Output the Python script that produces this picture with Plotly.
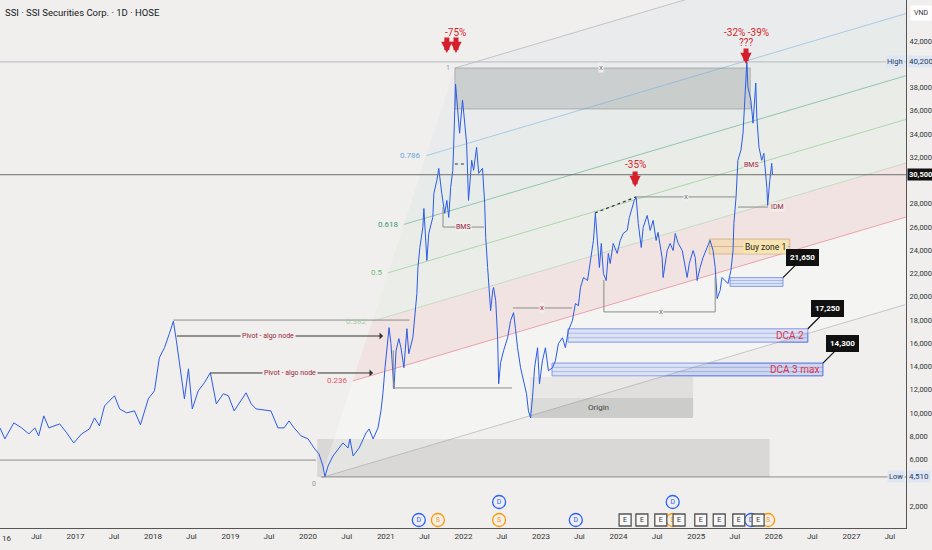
import pandas as pd
import plotly.graph_objects as go

# ---- price series (VND) ----
PRICE_DATES = [
    "2016-01-12", "2016-02-04", "2016-03-17", "2016-04-23", "2016-05-27", "2016-06-24", "2016-07-12",
    "2016-08-05", "2016-08-29", "2016-10-19", "2016-11-21", "2016-12-24", "2017-01-30", "2017-03-08",
    "2017-04-01", "2017-04-24", "2017-05-18", "2017-07-04", "2017-07-28", "2017-08-30", "2017-10-06",
    "2017-11-03", "2017-12-10", "2018-01-08", "2018-01-31", "2018-02-24", "2018-03-19", "2018-04-07",
    "2018-04-21", "2018-05-05", "2018-05-29", "2018-06-17", "2018-07-05", "2018-08-02", "2018-08-31",
    "2018-09-28", "2018-10-26", "2018-11-28", "2018-12-22", "2019-01-18", "2019-03-15", "2019-04-08",
    "2019-05-01", "2019-07-10", "2019-08-12", "2019-09-10", "2019-10-03", "2019-10-27", "2019-11-29",
    "2020-01-01", "2020-01-29", "2020-02-21", "2020-03-11", "2020-03-20", "2020-04-04", "2020-04-27",
    "2020-05-21", "2020-06-13", "2020-07-07", "2020-07-16", "2020-07-31", "2020-08-28", "2020-09-30",
    "2020-10-14", "2020-11-02", "2020-11-25", "2020-12-09", "2020-12-18", "2020-12-28", "2021-01-06",
    "2021-01-16", "2021-01-25", "2021-02-08", "2021-02-18", "2021-03-03", "2021-03-13", "2021-03-27",
    "2021-04-10", "2021-04-19", "2021-05-08", "2021-05-18", "2021-05-27", "2021-06-01", "2021-06-10",
    "2021-06-24", "2021-06-29", "2021-07-13", "2021-07-22", "2021-08-10", "2021-08-15", "2021-08-29",
    "2021-09-07", "2021-09-21", "2021-10-05", "2021-10-15", "2021-10-24", "2021-11-02", "2021-11-12",
    "2021-11-16", "2021-11-25", "2021-12-04", "2021-12-14", "2021-12-28", "2022-01-07", "2022-01-16",
    "2022-01-25", "2022-02-09", "2022-02-18", "2022-03-04", "2022-03-14", "2022-04-01", "2022-04-11",
    "2022-04-16", "2022-04-25", "2022-05-09", "2022-05-19", "2022-05-23", "2022-06-02", "2022-06-11",
    "2022-06-16", "2022-06-25", "2022-07-09", "2022-07-28", "2022-08-11", "2022-08-25", "2022-09-03",
    "2022-09-13", "2022-09-27", "2022-10-11", "2022-10-25", "2022-11-03", "2022-11-13", "2022-11-22",
    "2022-12-02", "2022-12-16", "2022-12-25", "2023-01-08", "2023-01-22", "2023-02-05", "2023-02-24",
    "2023-03-10", "2023-03-24", "2023-04-12", "2023-04-26", "2023-05-10", "2023-05-29", "2023-06-12",
    "2023-06-26", "2023-07-06", "2023-07-20", "2023-08-08", "2023-08-22", "2023-09-05", "2023-09-14",
    "2023-09-24", "2023-10-03", "2023-10-12", "2023-10-22", "2023-11-04", "2023-11-14", "2023-11-23",
    "2023-12-07", "2023-12-26", "2024-01-09", "2024-01-23", "2024-02-11", "2024-02-21", "2024-03-05",
    "2024-03-15", "2024-03-24", "2024-04-03", "2024-04-17", "2024-04-26", "2024-05-15", "2024-05-29",
    "2024-06-12", "2024-06-26", "2024-07-05", "2024-07-24", "2024-07-29", "2024-08-17", "2024-08-31",
    "2024-09-14", "2024-09-24", "2024-10-08", "2024-10-27", "2024-11-05", "2024-11-19", "2024-11-29",
    "2024-12-17", "2024-12-27", "2025-01-05", "2025-01-19", "2025-02-02", "2025-02-21", "2025-03-07",
    "2025-03-21", "2025-03-31", "2025-04-09", "2025-04-23", "2025-05-02", "2025-05-16", "2025-05-30",
    "2025-06-13", "2025-06-23", "2025-06-27", "2025-07-07", "2025-07-16", "2025-07-30", "2025-08-09",
    "2025-08-18", "2025-08-27", "2025-09-01", "2025-09-15", "2025-09-25", "2025-10-08", "2025-10-13",
    "2025-10-23", "2025-11-05", "2025-11-15", "2025-11-29", "2025-12-03", "2025-12-13", "2025-12-22",
    "2025-12-26",
]
PRICE_CLOSE = [
    8730, 7780, 9160, 8730, 8210, 8730, 8040,
    9760, 8730, 9070, 8300, 7430, 8210, 8640,
    9590, 8900, 10620, 11490, 10360, 10020, 10190,
    8990, 11230, 11920, 14760, 15620, 16830, 17900,
    16230, 14500, 11230, 13810, 10360, 11920, 12610,
    13470, 10800, 11660, 11490, 10190, 11740, 10800,
    10360, 10190, 8730, 8730, 9330, 8730, 8040,
    7780, 7000, 6490, 5450, 4510, 5450, 6310,
    6920, 7430, 7000, 7780, 6310, 7000, 8300,
    8640, 7780, 8730, 10190, 11660, 13900, 15620,
    17350, 15970, 12090, 15360, 16400, 15620, 13900,
    17260, 15110, 16480, 18550, 20280, 22520, 24240,
    25970, 27600, 23120, 25450, 26830, 28900, 30020,
    31050, 28900, 27170, 28290, 26830, 29410, 30880,
    32860, 38300, 36310, 34070, 36910, 34590, 33210,
    28290, 31740, 30880, 32860, 30620, 31050, 28040,
    25100, 22520, 18810, 20540, 20800, 19670, 16480,
    12520, 14330, 15360, 16480, 17950, 18640, 17260,
    15620, 13900, 12780, 11660, 10190, 9590, 11310,
    13900, 15620, 12520, 14500, 15620, 13640, 13900,
    14500, 15970, 16480, 15620, 17090, 17950, 19420,
    19240, 20800, 21660, 21400, 23120, 24850, 27170,
    24240, 22520, 24590, 22000, 21400, 23730, 22860,
    24590, 23730, 24850, 25450, 25710, 26830, 27690,
    28290, 28550, 26310, 24240, 25970, 27000, 25710,
    26570, 24850, 25540, 23380, 21660, 23980, 24590,
    23980, 25450, 24590, 23980, 23120, 21660, 22860,
    23980, 23380, 21400, 22520, 23380, 24240, 24850,
    23980, 22520, 19850, 20540, 21660, 21400, 21140,
    22260, 23980, 26310, 28550, 31740, 32600, 34070,
    37780, 40200, 38030, 36910, 34930, 38380, 35450,
    32860, 31740, 32340, 29410, 27860, 30020, 31480,
    30500,
]

LAST_PRICE = 30500
RANGE_HIGH = 40200
RANGE_LOW = 4510

X_RANGE = ["2016-01-12", "2027-09-15"]
Y_RANGE = [118, 45526]
Y_TICKS = [v for v in range(2000, 44000, 2000) if v not in (4000, 30000, 40000)]
X_TICK_DATES = []
X_TICK_TEXT = []
for yr in range(2016, 2028):
    X_TICK_DATES += [f"{yr}-01-01", f"{yr}-07-01"]
    X_TICK_TEXT += [str(yr), "Jul"]

# ---- fib channel ----
FIB_LEVELS = [0, 0.236, 0.382, 0.5, 0.618, 0.786, 1]
FIB_COLORS = ["#9598a1", "#e8556a", "#9fd09f", "#6cbf6c", "#2e9e6e", "#64a8e0", "#9598a1"]
FIB_FILLS = ["rgba(255,255,255,0.30)", "rgba(242,54,69,0.065)", "rgba(129,199,132,0.045)",
             "rgba(76,175,80,0.035)", "rgba(8,153,129,0.035)", "rgba(100,168,224,0.045)"]
FIB_P0 = ("2020-03-03", 4450)
FIB_P1 = ("2021-11-22", 39680)
FIB_BASE_END = ("2027-09-10", 19320)

# ---- zones: start, end, bottom, top ----
TOP_BOX = ("2021-11-22", "2025-09-12", 36150, 39680)
COVID_BOX = ("2020-02-13", "2025-12-12", 4510, 7780)
ORIGIN_UPPER = ("2022-11-10", "2024-12-17", 11300, 13100)
ORIGIN_LOWER = ("2022-11-10", "2024-12-17", 9580, 11300)
BUY_ZONE = ("2025-03-03", "2026-03-17", 23680, 24970)
BLUE_ZONES = [
    ("2025-06-09", "2026-02-13", 20900, 21650),
    ("2023-05-08", "2026-06-10", 16100, 17250),
    ("2023-02-22", "2026-08-20", 13200, 14300),
]
BLUE_TAGS = ["", "DCA 2", "DCA 3 max"]
BLUE_CALLOUTS = ["21,650", "17,250", "14,300"]

# ---- structure lines: start, end, price ----
GRAY_LINES = [
    ("2016-01-12", "2020-02-07", 5960),
    ("2020-03-03", "2027-09-15", RANGE_LOW),
    ("2018-04-07", "2021-04-22", 18000),
    ("2021-02-05", "2022-08-18", 12160),
    ("2024-03-24", "2025-07-07", 28590),
    ("2022-08-22", "2023-05-27", 19040),
    ("2023-10-24", "2025-03-31", 18700),
    ("2025-07-16", "2025-12-05", 27720),
    ("2021-09-27", "2022-04-08", 26000),
]
# vertical ticks: date, price from, price to
GRAY_VLINES = [
    ("2021-02-05", 12160, 15400),
    ("2023-10-24", 18700, 21450),
    ("2025-03-31", 18700, 21700),
    ("2021-09-27", 26000, 27720),
]
DASHED_LINES = [
    (("2023-09-12", 27210), ("2024-03-24", 28590)),
    (("2021-11-22", 31420), ("2022-01-05", 31420)),
]
X_MARKS = [("2023-10-12", 39680, "#787b86"), ("2024-11-14", 28590, "#787b86"),
           ("2023-01-06", 19040, "#c0283c"), ("2024-07-19", 18700, "#787b86")]
STRUCT_TEXT = [("2022-01-02", 26000, "BMS"), ("2025-09-16", 31330, "BMS"), ("2026-01-20", 27720, "IDM")]

PIVOT_ARROWS = [("2018-04-16", "2020-12-19", 16630), ("2018-09-21", "2020-11-02", 13450)]
PIVOT_TEXT_AT = ["2019-06-28", "2019-10-08"]

# red arrows: tip date, tip price
DROP_ARROWS = [("2021-10-15", 40970), ("2021-11-27", 40970), ("2024-03-19", 29440), ("2025-08-23", 40020)]
DROP_TEXT = [("2021-11-27", 42770, "-75%"), ("2024-03-19", 31420, "-35%"),
             ("2025-08-23", 42690, "-32% -39%"), ("2025-08-23", 41910, "???")]

# corporate events (D = dividend, S = split, E = earnings), row 1 = stacked above
EVENT_DATES = ["2021-06-05", "2021-09-03", "2022-06-18", "2022-06-18", "2023-06-14", "2024-02-01",
               "2024-04-20", "2024-07-18", "2024-09-12", "2024-09-12", "2024-10-12", "2025-01-22",
               "2025-04-19", "2025-07-20", "2025-09-16", "2025-10-19", "2025-12-05"]
EVENT_KIND = ["D", "S", "D", "S", "D", "E", "E", "E", "S", "D", "E", "E", "E", "E", "D", "E", "S"]
EVENT_ROW = [0, 0, 1, 0, 0, 0, 0, 0, 0, 1, 0, 0, 0, 0, 0, 0, 0]

BG = "#f0efed"
FONT = "Roboto, Liberation Sans, sans-serif"
LABEL_RED = "#9a2236"
ALERT_RED = "#d61f2c"

fig = go.Figure()
shapes = []
ann = []

# fib channel
d0 = pd.Timestamp(FIB_P0[0])
dd = pd.Timestamp(FIB_P1[0]) - d0
dp = FIB_P1[1] - FIB_P0[1]
dend = pd.Timestamp(FIB_BASE_END[0])
fib_pts = []
for k in FIB_LEVELS:
    s = (d0 + dd * k, FIB_P0[1] + dp * k)
    e = (dend + dd * k, FIB_BASE_END[1] + dp * k)
    fib_pts.append((s, e))

for i in range(len(FIB_LEVELS) - 1):
    (sa, ea), (sb, eb) = fib_pts[i], fib_pts[i + 1]
    fig.add_trace(go.Scatter(
        x=[sa[0], ea[0], eb[0], sb[0], sa[0]], y=[sa[1], ea[1], eb[1], sb[1], sa[1]],
        mode="lines", fill="toself", fillcolor=FIB_FILLS[i], line=dict(width=0),
        hoverinfo="skip", showlegend=False))

for k, (s, e), col in zip(FIB_LEVELS, fib_pts, FIB_COLORS):
    fig.add_trace(go.Scatter(x=[s[0], e[0]], y=[s[1], e[1]], mode="lines",
                             line=dict(color=col, width=0.8), opacity=0.6,
                             hoverinfo="skip", showlegend=False))
    txt = "0" if k == 0 else ("1" if k == 1 else f"{k:g}")
    ann.append(dict(x=s[0], y=s[1], text=txt, showarrow=False, xanchor="right",
                    yanchor="top" if k == 0 else "middle", xshift=-3,
                    font=dict(size=8 if k not in (0, 1) else 7, color=col)))

# boxes
def rect(b, fill, line=None, lw=0.8):
    shapes.append(dict(type="rect", xref="x", yref="y", x0=b[0], x1=b[1], y0=b[2], y1=b[3],
                       fillcolor=fill, line=dict(color=line or "rgba(0,0,0,0)", width=lw if line else 0),
                       layer="below"))

rect(TOP_BOX, "rgba(140,140,140,0.30)", "rgba(120,120,120,0.55)")
rect(COVID_BOX, "rgba(150,150,150,0.26)")
rect(ORIGIN_UPPER, "rgba(160,160,160,0.20)")
rect(ORIGIN_LOWER, "rgba(140,140,140,0.36)")
ann.append(dict(x="2023-10-01", y=(ORIGIN_LOWER[2] + ORIGIN_LOWER[3]) / 2, text="Origin", showarrow=False,
                font=dict(size=8, color="#444")))

rect(BUY_ZONE, "rgba(248,224,160,0.55)", "rgba(200,170,110,0.8)")
mid = (BUY_ZONE[2] + BUY_ZONE[3]) / 2
shapes.append(dict(type="line", xref="x", yref="y", x0=BUY_ZONE[0], x1=BUY_ZONE[1], y0=mid, y1=mid,
                   line=dict(color="rgba(150,130,90,0.5)", width=0.8)))
ann.append(dict(x=BUY_ZONE[1], y=mid, text="Buy zone 1", showarrow=False, xanchor="right", xshift=-2,
                bgcolor="rgba(248,228,175,1)", font=dict(size=8.5, color="#222")))

for b, tag, call in zip(BLUE_ZONES, BLUE_TAGS, BLUE_CALLOUTS):
    rect(b, "rgba(90,130,235,0.22)", "#4a6fe0", 1)
    for f in (1 / 3, 2 / 3):
        yy = b[2] + (b[3] - b[2]) * f
        shapes.append(dict(type="line", xref="x", yref="y", x0=b[0], x1=b[1], y0=yy, y1=yy,
                           line=dict(color="rgba(74,111,224,0.45)", width=0.8)))
    if tag:
        ann.append(dict(x=b[1], y=(b[2] + b[3]) / 2, text=tag, showarrow=False, xanchor="right", xshift=-2,
                        font=dict(size=10, color="#e0324b")))
    ann.append(dict(x=b[1], y=b[3], text=f"<b>{call}</b>", showarrow=True, arrowhead=0, arrowwidth=1.2,
                    arrowcolor="#111", ax=20, ay=-20, bgcolor="#111", bordercolor="#111", borderpad=3,
                    font=dict(size=8, color="#fff")))

# horizontal reference lines
shapes.append(dict(type="line", xref="paper", yref="y", x0=0, x1=1, y0=RANGE_HIGH, y1=RANGE_HIGH,
                   line=dict(color="#b8babf", width=1)))
shapes.append(dict(type="line", xref="paper", yref="y", x0=0, x1=1, y0=LAST_PRICE, y1=LAST_PRICE,
                   line=dict(color="#6e6e6e", width=1)))
for s, e, p in GRAY_LINES:
    shapes.append(dict(type="line", xref="x", yref="y", x0=s, x1=e, y0=p, y1=p,
                       line=dict(color="#8c8c8c", width=1)))
for d, p0, p1 in GRAY_VLINES:
    shapes.append(dict(type="line", xref="x", yref="y", x0=d, x1=d, y0=p0, y1=p1,
                       line=dict(color="#8c8c8c", width=1)))
for a, b in DASHED_LINES:
    shapes.append(dict(type="line", xref="x", yref="y", x0=a[0], x1=b[0], y0=a[1], y1=b[1],
                       line=dict(color="#333", width=1.2, dash="dot")))
for d, p, c in X_MARKS:
    ann.append(dict(x=d, y=p, text="x", showarrow=False, font=dict(size=8, color=c), bgcolor=BG, borderpad=0))
for d, p, t in STRUCT_TEXT:
    ann.append(dict(x=d, y=p, text=t, showarrow=False, font=dict(size=7, color=LABEL_RED), bgcolor=BG, borderpad=0))

# pivot arrows
for (s, e, p), tx in zip(PIVOT_ARROWS, PIVOT_TEXT_AT):
    ann.append(dict(x=e, y=p, ax=s, ay=p, axref="x", ayref="y", text="", showarrow=True,
                    arrowhead=1, arrowsize=1.2, arrowwidth=1, arrowcolor="#333"))
    ann.append(dict(x=tx, y=p, text="Pivot - algo node", showarrow=False, bgcolor=BG, borderpad=1,
                    font=dict(size=7, color=LABEL_RED)))

# price line
fig.add_trace(go.Scatter(x=PRICE_DATES, y=PRICE_CLOSE, mode="lines",
                         line=dict(color="#2b5ce6", width=1), hoverinfo="skip", showlegend=False))

# drop arrows
for d, p in DROP_ARROWS:
    ann.append(dict(x=d, y=p, text="", showarrow=True, ax=0, ay=-17, arrowhead=2, arrowsize=0.45,
                    arrowwidth=5, arrowcolor=ALERT_RED))
for d, p, t in DROP_TEXT:
    ann.append(dict(x=d, y=p, text=t, showarrow=False, font=dict(size=10, color=ALERT_RED)))

# events
ev_style = {"D": ("circle", "#2962ff"), "S": ("circle", "#ff9800"), "E": ("square", "#555555")}
row_price = [806, 2354]
for kind in ("D", "S", "E"):
    xs = [d for d, k in zip(EVENT_DATES, EVENT_KIND) if k == kind]
    ys = [row_price[r] for r, k in zip(EVENT_ROW, EVENT_KIND) if k == kind]
    sym, col = ev_style[kind]
    fig.add_trace(go.Scatter(
        x=xs, y=ys, mode="markers+text", text=[kind] * len(xs), textposition="middle center",
        textfont=dict(size=7, color=col if kind != "E" else "#333", family=FONT),
        marker=dict(symbol=sym, size=13 if kind != "E" else 12, color="#f7f7f7" if kind == "E" else BG,
                    line=dict(color=col, width=1.3)),
        cliponaxis=False, hoverinfo="skip", showlegend=False))

# right-side price labels
ann += [
    dict(xref="paper", x=1.0, y=RANGE_HIGH, text="40,200", showarrow=False, xanchor="left", xshift=1,
         bgcolor="#dde6f2", borderpad=1, font=dict(size=8, color="#1f3b66")),
    dict(xref="paper", x=1.0, y=RANGE_HIGH, text="High", showarrow=False, xanchor="right", xshift=-1,
         bgcolor="#dde6f2", borderpad=1, font=dict(size=7.5, color="#1f3b66")),
    dict(xref="paper", x=1.0, y=RANGE_LOW, text="4,510", showarrow=False, xanchor="left", xshift=1,
         bgcolor="#dde6f2", borderpad=1, font=dict(size=8, color="#1f3b66")),
    dict(xref="paper", x=1.0, y=RANGE_LOW, text="Low", showarrow=False, xanchor="right", xshift=-1,
         bgcolor="#dde6f2", borderpad=1, font=dict(size=7.5, color="#1f3b66")),
    dict(xref="paper", x=1.0, y=LAST_PRICE, text="<b>30,500</b>", showarrow=False, xanchor="left", xshift=1,
         bgcolor="#111", borderpad=1, font=dict(size=7.5, color="#fff")),
    dict(xref="paper", yref="paper", x=1.0, y=1.0, text="VND", showarrow=False, xanchor="left", yanchor="top",
         xshift=4, yshift=-5, bgcolor="#ffffff", borderpad=3, font=dict(size=7, color="#333")),
    dict(xref="paper", yref="paper", x=0.0, y=1.0, text="SSI · SSI Securities Corp. · 1D · HOSE",
         showarrow=False, xanchor="left", yanchor="top", xshift=3, yshift=-5,
         font=dict(size=9.5, color="#131722")),
    dict(xref="paper", yref="paper", x=0.0, y=0.0, text="16", showarrow=False, xanchor="left",
         yanchor="top", yshift=-4, font=dict(size=8, color="#333")),
]

fig.update_layout(
    width=932, height=550,
    margin=dict(l=0, r=26, t=0, b=22),
    paper_bgcolor=BG, plot_bgcolor=BG,
    font=dict(family=FONT, size=8, color="#333"),
    shapes=shapes, annotations=ann, showlegend=False,
)
fig.update_xaxes(range=X_RANGE, tickvals=X_TICK_DATES, ticktext=X_TICK_TEXT, showgrid=False,
                 zeroline=False, showline=True, linecolor="#555", linewidth=1, ticks="",
                 tickfont=dict(size=8, color="#333"))
fig.update_yaxes(range=Y_RANGE, side="right", tickvals=Y_TICKS, ticktext=[f"{v:,}" for v in Y_TICKS],
                 showgrid=False, zeroline=False, showline=True, linecolor="#555", linewidth=1, ticks="",
                 ticklabelstandoff=1, tickfont=dict(size=7.5, color="#333"))

fig.write_html("out.html", config={"displayModeBar": False},
               post_script="document.body.style.margin='0px';")
